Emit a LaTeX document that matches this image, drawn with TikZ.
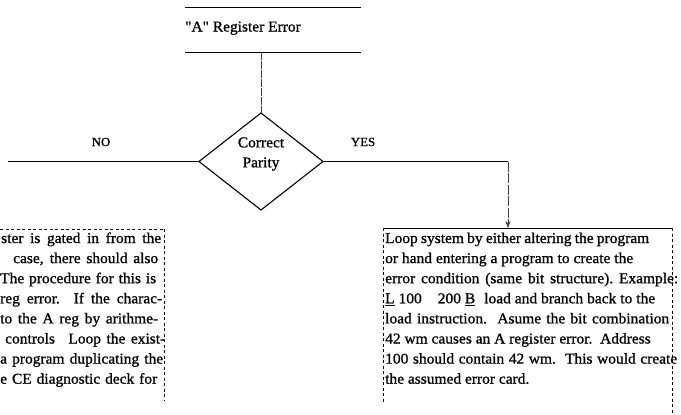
\documentclass[tikz,border=0pt]{standalone}
\usepackage{fontspec}
\setmainfont{Liberation Serif}[FakeBold=1,FakeStretch=1.03]
\newfontfamily\plainquotes{Liberation Serif}[FakeBold=1,FakeStretch=1.03,Ligatures=TeXOff]
\usetikzlibrary{shapes.geometric,arrows.meta}
\newcommand{\bodyfont}{\fontsize{15}{20}\selectfont}
\newcommand{\labelfont}{\fontsize{12.5}{14}\selectfont}
% one set line of a paragraph, spread to a given width (in pt)
\newcommand{\jline}[2]{\makebox[#1pt][s]{#2}}
\begin{document}
\begin{tikzpicture}[x=1pt,y=-1pt,
  flow/.style={line width=1.2pt},
  faint/.style={line width=0.5pt, black!75},
  rule/.style={line width=0.9pt},
  broken/.style={line width=0.6pt, dash pattern=on 3pt off 2.5pt},
  frame/.style={inner sep=0pt, outer sep=0pt},
  decision/.style={diamond, draw, line width=1.1pt, minimum width=124pt,
    minimum height=97pt, inner sep=0pt, outer sep=0pt},
  body/.style={font=\bodyfont, inner sep=0pt},
  lbl/.style={font=\labelfont, inner sep=0pt}]
\useasboundingbox (0,0) rectangle (681,415);

% title block
\node[frame, minimum width=176pt, minimum height=45pt] (title) at (272.5,29.5) {};
\draw[rule] (title.north west) -- (title.north east);
\draw[rule] (title.south west) -- (title.south east);
\node[body, anchor=base west] (titletext) at (185,31.5) {\plainquotes "A" Register Error};

% decision
\node[decision] (parity) at (261,161.5) {};
\node[body, align=center] (paritytext) at (261,154) {Correct\\Parity};
\draw[faint, dash pattern=on 8pt off 1pt] (title.south -| parity.north) -- (parity.north);

% branches
\coordinate (noend) at (8,161.5);
\coordinate (yesturn) at (508,161.5);
\draw[flow] (parity.west) -- (noend);
\draw[flow] (parity.east) -- (yesturn);
\node[lbl] (nolabel) at (101,142) {NO};
\node[lbl] (yeslabel) at (363,142) {YES};

% left procedure box
\node[frame, anchor=north east, minimum width=164pt, minimum height=186pt] (condbox) at (164,229) {};
\draw[broken] (condbox.north west) -- (condbox.north east);
\draw[broken] (condbox.north east) -- ++(0,172);

\node[body, anchor=base west] (c1) at (1,243)    {\jline{160}{ster is gated in from the}};
\node[body, anchor=base west] (c2) at (13,263.1) {\jline{145}{case, there should also}};
\node[body, anchor=base west] (c3) at (0,283.2)  {\jline{156}{The procedure for this is}};
\node[body, anchor=base west] (c4) at (0,303.3)  {\jline{162}{reg error.\ \ If the charac-}};
\node[body, anchor=base west] (c5) at (0,323.4)  {\jline{158}{to the A reg by arithme-}};
\node[body, anchor=base west] (c6) at (5,343.5)  {\jline{160}{controls\hspace{8pt} Loop the exist-}};
\node[body, anchor=base west] (c7) at (0,363.6)  {\jline{163}{a program duplicating the}};
\node[body, anchor=base west] (c8) at (0,383.7)  {\jline{157}{e CE diagnostic deck for}};

% right procedure box
\node[frame, anchor=north west, minimum width=289pt, minimum height=187pt] (loopbox) at (383,228) {};
\draw[rule] (loopbox.north west) -- (loopbox.north east);
\draw[broken] (loopbox.north west) -- ++(0,174);
\draw[broken] (loopbox.north east) -- (loopbox.south east);
\draw[faint, dash pattern=on 10pt off 1.5pt, -{Stealth[length=7pt,width=5pt]}] (yesturn) -- (yesturn |- loopbox.north);

\node[body, anchor=base west] (r1) at (385,243)   {\jline{264}{Loop system by either altering the program}};
\node[body, anchor=base west] (r2) at (385,263.1) {\jline{248}{or hand entering a program to create the}};
\node[body, anchor=base west] (r3) at (385,283.2) {\jline{293}{error condition (same bit structure).\ Example:}};
\node[body, anchor=base west] (r4) at (385,303.3) {\jline{270}{\underline{L} 100\hspace{12pt} 200 \underline{B}\hspace{5pt} load and branch back to the}};
\node[body, anchor=base west] (r5) at (385,323.4) {\jline{284}{load instruction.\ \ Asume the bit combination}};
\node[body, anchor=base west] (r6) at (385,343.5) {42 wm causes an A register error.\ \ Address};
\node[body, anchor=base west] (r7) at (385,363.6) {\jline{292}{100 should contain 42 wm.\ \ This would create}};
\node[body, anchor=base west] (r8) at (385,383.7) {the assumed error card.};
\end{tikzpicture}
\end{document}
